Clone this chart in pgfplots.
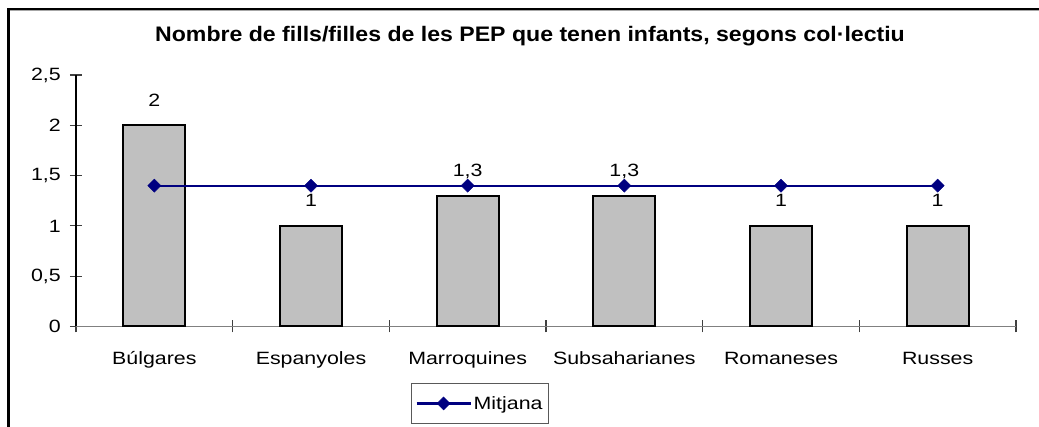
\documentclass[border=0pt]{standalone}
\usepackage{fontspec}
\setmainfont{Liberation Sans}[FakeStretch=1.2]
\newfontfamily\titlefont{Liberation Sans}[FakeStretch=1.1]
\usepackage{graphicx}
\usepackage{pgfplots}
\pgfplotsset{compat=1.18}
\definecolor{barfill}{HTML}{C0C0C0}
\definecolor{navyline}{HTML}{000080}
\begin{document}
\begin{tikzpicture}
\useasboundingbox (0pt,0pt) rectangle (1039pt,427pt);
\draw[line width=2.6pt] (8.5pt,0pt) -- (8.5pt,417.7pt) -- (1039pt,417.7pt);
\draw[line width=1pt, black!35] (9.8pt,416pt) -- (1039pt,416pt);
\node[font=\titlefont\bfseries\fontsize{21}{24}\selectfont] at (530pt,391pt) {Nombre de fills/filles de les PEP que tenen infants, segons col·lectiu};
\begin{axis}[
  at={(76pt,100.5pt)}, anchor=south west,
  scale only axis, width=940pt, height=251.5pt,
  xmin=-0.5, xmax=5.5, ymin=0, ymax=2.5,
  axis x line*=bottom, axis y line*=left,
  x axis line style={draw=gray, line width=1.6pt, -},
  y axis line style={draw=black, line width=1.2pt, -},
  font=\fontsize{17.8}{20}\selectfont,
  /pgf/number format/.cd, use comma, 1000 sep={}, assume math mode=true,
  /pgfplots/.cd,
  ytick={0,0.5,1,1.5,2,2.5},
  xtick={0,1,2,3,4,5},
  xticklabels={Búlgares,Espanyoles,Marroquines,Subsaharianes,Romaneses,Russes},
  minor xtick={-0.5,0.5,1.5,2.5,3.5,4.5,5.5},
  tick align=center,
  major tick length=12pt, minor tick length=12pt,
  major x tick style={draw=none},
  minor x tick style={draw=black!75, line width=1.2pt},
  major y tick style={draw=black!75, line width=1.2pt},
  yticklabel style={anchor=east, inner sep=0pt, xshift=-9pt},
  xticklabel style={anchor=base, inner sep=0pt, yshift=-32pt},
  legend style={at={(0.4298,-0.306)}, anchor=center, draw=black!65, line width=1.3pt,
    font=\fontsize{17.8}{20}\selectfont, inner xsep=4pt, inner ysep=11pt},
  legend image code/.code={\draw[mark repeat=2,mark phase=2] plot coordinates {(0pt,0pt) (27pt,0pt) (54pt,0pt)};},
]
\addplot[ybar, bar width=62pt, fill=barfill, draw=black, line width=2.2pt,
  nodes near coords,
  nodes near coords style={anchor=base, inner sep=0pt, yshift=19pt, text=black,
    font=\fontsize{17.8}{20}\selectfont,
    /pgf/number format/.cd, use comma, assume math mode=true},
  forget plot]
  coordinates {(0,2) (1,1) (2,1.3) (3,1.3) (4,1) (5,1)};
\addplot[navyline, line width=2.2pt, mark=square*, mark size=4.6pt,
  mark options={rotate=45, fill=navyline, draw=navyline, line width=0.5pt}]
  coordinates {(0,1.4) (1,1.4) (2,1.4) (3,1.4) (4,1.4) (5,1.4)};
\addlegendentry{Mitjana}
\end{axis}
\end{tikzpicture}
\end{document}
